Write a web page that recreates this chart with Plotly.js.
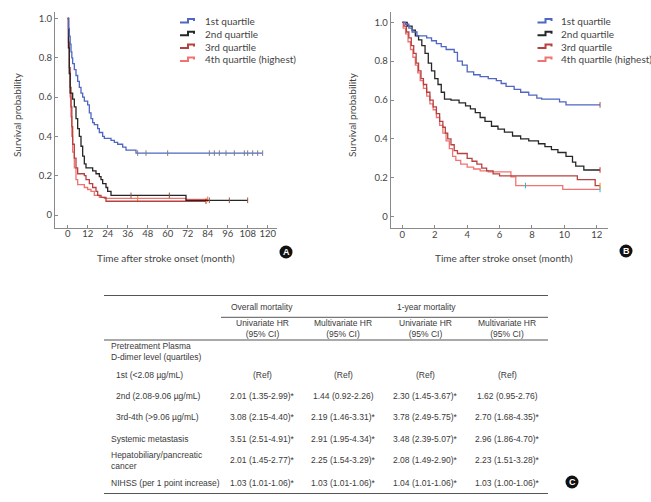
<!DOCTYPE html>
<html>
<head>
<meta charset="utf-8">
<script src="https://cdn.plot.ly/plotly-3.0.1.min.js"></script>
<style>
  body { margin: 0; background: #fff; }
  #plot { width: 651px; height: 502px; }
</style>
</head>
<body>
<div id="plot"></div>
<script>
// Panel A: overall survival (months)
let tA1 = [0, 0.5, 1, 1.5, 2, 2.5, 3, 4, 5, 6, 7, 8, 9, 10, 12, 13, 14, 15, 16, 18, 19, 21, 22, 26, 28, 30, 33, 35, 41, 117];
let sA1 = [1, 0.95, 0.91, 0.87, 0.83, 0.80, 0.77, 0.74, 0.71, 0.68, 0.65, 0.62, 0.60, 0.58, 0.56, 0.52, 0.49, 0.47, 0.46, 0.44, 0.42, 0.40, 0.39, 0.38, 0.37, 0.36, 0.345, 0.33, 0.315, 0.315];
let tA2 = [0, 0.5, 1, 1.5, 3, 4, 5, 6, 7, 8, 9, 10, 11, 15, 17, 19, 20, 21, 23, 24, 26, 71, 108];
let sA2 = [1, 0.85, 0.72, 0.62, 0.59, 0.55, 0.49, 0.44, 0.40, 0.35, 0.30, 0.26, 0.24, 0.225, 0.21, 0.195, 0.18, 0.16, 0.14, 0.12, 0.10, 0.075, 0.075];
let tA3 = [0, 0.5, 1, 1.5, 2, 2.5, 3, 4, 5, 6, 10, 11, 13, 15, 17, 18, 20, 23, 83];
let sA3 = [1, 0.88, 0.75, 0.65, 0.55, 0.45, 0.36, 0.29, 0.24, 0.21, 0.20, 0.18, 0.16, 0.14, 0.12, 0.10, 0.09, 0.07, 0.07];
let tA4 = [0, 0.5, 1, 1.5, 2, 2.5, 3, 4, 5, 6, 10, 12, 14, 16, 19, 22, 71, 84];
let sA4 = [1, 0.85, 0.72, 0.60, 0.50, 0.40, 0.32, 0.24, 0.18, 0.155, 0.14, 0.13, 0.12, 0.10, 0.09, 0.085, 0.08, 0.08];
let cA1 = [42, 47, 60, 85, 88, 91, 95, 100, 106, 108, 111, 114, 117];
let cA2 = [38, 61, 85, 97, 108];
let cA3 = [83];
let cA4 = [42, 84];

// Panel B: 1-year survival (months)
let tB1 = [0, 0.2, 0.4, 0.6, 0.9, 1.5, 1.8, 2.1, 2.4, 2.7, 3.2, 3.4, 3.7, 4.0, 4.4, 4.8, 5.3, 5.8, 6.1, 6.4, 6.9, 7.3, 7.8, 8.3, 8.6, 9.7, 10.1, 12.2];
let sB1 = [1, 0.99, 0.97, 0.95, 0.93, 0.92, 0.905, 0.89, 0.875, 0.86, 0.845, 0.80, 0.78, 0.745, 0.73, 0.72, 0.71, 0.70, 0.685, 0.67, 0.655, 0.64, 0.625, 0.61, 0.605, 0.59, 0.575, 0.575];
let tB2 = [0, 0.3, 0.6, 0.8, 1.0, 1.2, 1.4, 1.6, 1.8, 2.0, 2.2, 2.4, 2.6, 3.0, 3.5, 3.9, 4.2, 4.5, 4.8, 5.1, 5.5, 5.9, 6.3, 6.8, 7.3, 7.8, 8.4, 8.8, 9.2, 9.6, 10.1, 10.5, 10.7, 11.2, 12.2];
let sB2 = [1, 0.98, 0.96, 0.93, 0.91, 0.88, 0.84, 0.79, 0.75, 0.71, 0.68, 0.64, 0.605, 0.60, 0.585, 0.57, 0.555, 0.535, 0.51, 0.49, 0.465, 0.45, 0.435, 0.415, 0.40, 0.39, 0.375, 0.36, 0.345, 0.33, 0.31, 0.28, 0.26, 0.24, 0.24];
let tB3 = [0, 0.1, 0.25, 0.4, 0.55, 0.7, 0.85, 1.0, 1.15, 1.3, 1.5, 1.7, 1.9, 2.1, 2.3, 2.5, 2.65, 2.8, 3.0, 3.2, 3.4, 4.0, 4.3, 4.6, 4.9, 5.2, 5.6, 6.0, 10.8, 11.9, 12.2];
let sB3 = [1, 0.98, 0.95, 0.92, 0.88, 0.84, 0.79, 0.75, 0.71, 0.68, 0.64, 0.60, 0.565, 0.53, 0.49, 0.46, 0.43, 0.40, 0.37, 0.34, 0.325, 0.30, 0.285, 0.27, 0.25, 0.235, 0.22, 0.21, 0.19, 0.16, 0.16];
let tB4 = [0, 0.05, 0.2, 0.35, 0.5, 0.65, 0.8, 0.95, 1.1, 1.3, 1.5, 1.7, 1.9, 2.1, 2.3, 2.5, 2.7, 2.9, 3.1, 3.3, 3.6, 4.0, 4.4, 4.8, 5.3, 6.7, 7.0, 9.9, 12.2];
let sB4 = [1, 0.97, 0.94, 0.90, 0.86, 0.82, 0.78, 0.74, 0.70, 0.66, 0.62, 0.58, 0.55, 0.51, 0.47, 0.43, 0.39, 0.35, 0.31, 0.29, 0.27, 0.255, 0.245, 0.235, 0.23, 0.205, 0.16, 0.14, 0.14];
let cB1 = [12.2];
let cB2 = [12.2];
let cB3 = [12.2];
let cB4 = [7.6, 12.2];

// Legend labels and colours
let groupNames = ['1st quartile', '2nd quartile', '3rd quartile', '4th quartile (highest)'];
let groupColors = ['#4f66c2', '#262626', '#b5423f', '#f07372'];

// Panel C: table
let rowLabels = ['1st (<2.08 µg/mL)', '2nd (2.08-9.06 µg/mL)', '3rd-4th (>9.06 µg/mL)', 'Systemic metastasis', 'Hepatobiliary/pancreatic<br>cancer', 'NIHSS (per 1 point increase)'];
let overallUni = ['(Ref)', '2.01 (1.35-2.99)*', '3.08 (2.15-4.40)*', '3.51 (2.51-4.91)*', '2.01 (1.45-2.77)*', '1.03 (1.01-1.06)*'];
let overallMulti = ['(Ref)', '1.44 (0.92-2.26)', '2.19 (1.46-3.31)*', '2.91 (1.95-4.34)*', '2.25 (1.54-3.29)*', '1.03 (1.01-1.06)*'];
let yearUni = ['(Ref)', '2.30 (1.45-3.67)*', '3.78 (2.49-5.75)*', '3.48 (2.39-5.07)*', '2.08 (1.49-2.90)*', '1.04 (1.01-1.06)*'];
let yearMulti = ['(Ref)', '1.62 (0.95-2.76)', '2.70 (1.68-4.35)*', '2.96 (1.86-4.70)*', '2.23 (1.51-3.28)*', '1.03 (1.00-1.06)*'];

const W = 651, H = 502;
function px(x) { return x / W; }
function py(y) { return 1 - y / H; }

// survival value at time t from step data
function survAt(ts, ss, t) {
    let s = ss[0];
    for (let i = 0; i < ts.length; i++) {
        if (ts[i] <= t) s = ss[i];
    }
    return s;
}

let data = [];
let panels = [
    { xa: 'x', ya: 'y', t: [tA1, tA2, tA3, tA4], s: [sA1, sA2, sA3, sA4], c: [cA1, cA2, cA3, cA4] },
    { xa: 'x2', ya: 'y2', t: [tB1, tB2, tB3, tB4], s: [sB1, sB2, sB3, sB4], c: [cB1, cB2, cB3, cB4] }
];
panels.forEach(p => {
    for (let g = 3; g >= 0; g--) {
        data.push({
            x: p.t[g], y: p.s[g], xaxis: p.xa, yaxis: p.ya,
            type: 'scatter', mode: 'lines', name: groupNames[g],
            line: { shape: 'hv', color: groupColors[g], width: 1.3 },
            hoverinfo: 'skip'
        });
        data.push({
            x: p.c[g], y: p.c[g].map(t => survAt(p.t[g], p.s[g], t)),
            xaxis: p.xa, yaxis: p.ya, type: 'scatter', mode: 'markers',
            marker: { symbol: 'line-ns-open', size: 4, line: { color: groupColors[g], width: 1 } },
            hoverinfo: 'skip'
        });
    }
});

let tickFont = { family: 'Lato, sans-serif', size: 9.5, color: '#444' };
let axisBase = {
    showline: true, linecolor: '#8a8a8a', linewidth: 1,
    ticks: 'inside', ticklen: 3, tickcolor: '#8a8a8a',
    showgrid: false, zeroline: false, tickfont: tickFont, fixedrange: true
};
let yTicks = { tickmode: 'array', tickvals: [0, 0.2, 0.4, 0.6, 0.8, 1.0], ticktext: ['0', '0.2', '0.4', '0.6', '0.8', '1.0'] };

let annotations = [];
let shapes = [];
let labelFont = { family: 'Lato, sans-serif', size: 10, color: '#444' };

function addText(x, y, text, font, xanchor) {
    annotations.push({
        xref: 'paper', yref: 'paper', x: px(x), y: py(y), text: text,
        showarrow: false, xanchor: xanchor || 'center', yanchor: 'middle', font: font, align: xanchor || 'center'
    });
}

// axis titles
addText(17, 115, 'Survival probability', labelFont);
annotations[annotations.length - 1].textangle = -90;
addText(166, 258, 'Time after stroke onset (month)', labelFont);
addText(352, 115, 'Survival probability', labelFont);
annotations[annotations.length - 1].textangle = -90;
addText(504, 258, 'Time after stroke onset (month)', labelFont);

// custom legends with step symbols
[[180, 202.5], [537.5, 558.5]].forEach(pos => {
    groupNames.forEach((name, i) => {
        let y = 21 + i * 12.8;
        let x0 = pos[0];
        shapes.push({
            type: 'path', xref: 'paper', yref: 'paper',
            path: `M ${px(x0)},${py(y + 1.5)} L ${px(x0 + 8)},${py(y + 1.5)} L ${px(x0 + 8)},${py(y - 2)} L ${px(x0 + 14)},${py(y - 2)} L ${px(x0 + 14)},${py(y)}`,
            line: { color: groupColors[i], width: 2 }
        });
        addText(pos[1], y, name, labelFont, 'left');
    });
});

// panel badges
[['A', 286, 252], ['B', 626, 251], ['C', 572, 482]].forEach(b => {
    shapes.push({
        type: 'circle', xref: 'paper', yref: 'paper',
        x0: px(b[1] - 6.5), x1: px(b[1] + 6.5), y0: py(b[2] + 6.5), y1: py(b[2] - 6.5),
        fillcolor: '#111', line: { width: 0 }
    });
    addText(b[1], b[2], '<b>' + b[0] + '</b>', { family: 'Liberation Sans, Arial, sans-serif', size: 9, color: '#fff' });
});

// table
let tFont = { family: 'Liberation Sans, Arial, sans-serif', size: 8.5, color: '#3a3a3a' };
let colX = [262, 343, 425, 507];
let rowY = [375, 395.5, 417, 438.5, 460, 482.5];
function hline(x0, x1, y, w) {
    shapes.push({ type: 'line', xref: 'paper', yref: 'paper', x0: px(x0), x1: px(x1), y0: py(y), y1: py(y), line: { color: '#555', width: w } });
}
hline(104, 548, 295.5, 1.2);
hline(221, 548, 317.3, 1);
hline(104, 548, 340, 1.2);
hline(104, 548, 493.5, 1.2);

addText(262, 306.7, 'Overall mortality', tFont);
addText(426, 306.7, '1-year mortality', tFont);
['Univariate HR<br>(95% CI)', 'Multivariate HR<br>(95% CI)', 'Univariate HR<br>(95% CI)', 'Multivariate HR<br>(95% CI)'].forEach((h, i) => {
    addText(colX[i], 328.5, h, tFont);
});
addText(109, 351, 'Pretreatment Plasma<br>D-dimer level (quartiles)', tFont, 'left');
rowLabels.forEach((lab, i) => {
    addText(i < 3 ? 114 : 109, rowY[i], lab, tFont, 'left');
    [overallUni, overallMulti, yearUni, yearMulti].forEach((col, j) => {
        addText(colX[j], rowY[i], col[i], tFont);
    });
});

let layout = {
    width: W, height: H,
    margin: { l: 0, r: 0, t: 0, b: 0 },
    paper_bgcolor: '#fff', plot_bgcolor: 'rgba(0,0,0,0)',
    showlegend: false,
    xaxis: Object.assign({}, axisBase, {
        domain: [px(55), px(277)], range: [-7.6, 125.6], anchor: 'y',
        tickmode: 'array', tickvals: [0, 12, 24, 36, 48, 60, 72, 84, 96, 108, 120],
        ticklabelstandoff: -3
    }),
    yaxis: Object.assign({}, axisBase, yTicks, {
        domain: [py(228), py(12)], range: [-0.066, 1.033], anchor: 'x'
    }),
    xaxis2: Object.assign({}, axisBase, {
        domain: [px(390.7), px(608.3)], range: [-0.72, 12.71], anchor: 'y2',
        tickmode: 'array', tickvals: [0, 2, 4, 6, 8, 10, 12],
        ticklabelstandoff: -3
    }),
    yaxis2: Object.assign({}, axisBase, yTicks, {
        domain: [py(228.3), py(11.7)], range: [-0.06, 1.0545], anchor: 'x2'
    }),
    annotations: annotations,
    shapes: shapes
};

Plotly.newPlot('plot', data, layout, { displayModeBar: false, staticPlot: true });
</script>
</body>
</html>
